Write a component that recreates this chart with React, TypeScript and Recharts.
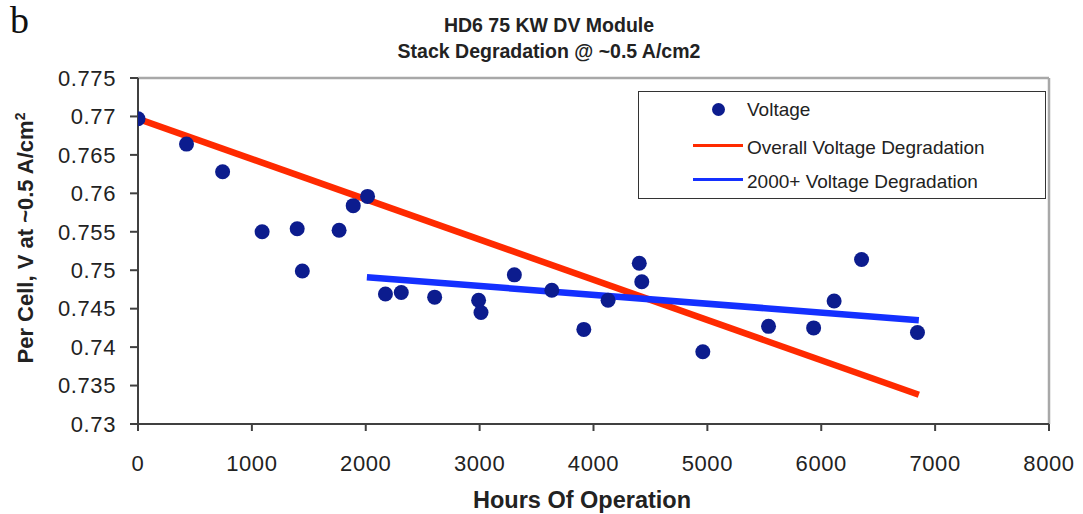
import React from 'react';
import { ComposedChart, Scatter, Line, XAxis, YAxis, ReferenceLine, Legend } from 'recharts';

// measured operating hours and per-cell voltage
const hours = [0, 426, 743, 1090, 1398, 1443, 1766, 1890, 2016, 2173, 2312, 2605, 2991, 3012, 3305, 3634, 3915, 4128, 4402, 4424, 4960, 5537, 5933, 6113, 6354, 6845];
const voltage = [0.7697, 0.7664, 0.7628, 0.755, 0.7554, 0.7499, 0.7552, 0.7584, 0.7596, 0.7469, 0.7471, 0.7465, 0.7461, 0.7445, 0.7494, 0.7474, 0.7423, 0.7461, 0.7509, 0.7485, 0.7394, 0.7427, 0.7425, 0.746, 0.7514, 0.7419];

// trend line end points
const overallHours = [0, 6857];
const overallVolts = [0.7697, 0.7338];
const recentHours = [2010, 6857];
const recentVolts = [0.7491, 0.7435];

const xTicks = [0, 1000, 2000, 3000, 4000, 5000, 6000, 7000, 8000];
const yTicks = [0.73, 0.735, 0.74, 0.745, 0.75, 0.755, 0.76, 0.765, 0.77, 0.775];

const FONT = '"Liberation Sans", Arial, sans-serif';
const DOT = '#0c1c8e';
const RED = '#ff2a00';
const BLUE = '#1430ff';

const points = hours.map((h, i) => ({ h, v: voltage[i] }));
const overall = overallHours.map((h, i) => ({ h, v: overallVolts[i] }));
const recent = recentHours.map((h, i) => ({ h, v: recentVolts[i] }));

const rowText: React.CSSProperties = { position: 'absolute', left: 108, lineHeight: '20px', whiteSpace: 'nowrap' };

const renderLegend = () => (
  <div style={{ position: 'relative', width: 408, height: 108, border: '1.5px solid #333', boxSizing: 'border-box', background: '#fff', fontFamily: FONT, fontSize: 19, color: '#222' }}>
    <div style={{ position: 'absolute', left: 73, top: 11, width: 13, height: 13, borderRadius: '50%', background: DOT }} />
    <div style={{ ...rowText, top: 8 }}>Voltage</div>
    <div style={{ position: 'absolute', left: 54, top: 52, width: 50, height: 3, background: RED }} />
    <div style={{ ...rowText, top: 46 }}>Overall Voltage Degradation</div>
    <div style={{ position: 'absolute', left: 54, top: 86, width: 50, height: 3, background: BLUE }} />
    <div style={{ ...rowText, top: 80 }}>2000+ Voltage Degradation</div>
  </div>
);

const App: React.FC = () => {
  return (
    <div style={{ position: 'absolute', left: 0, top: 0, width: 1083, height: 514, background: '#fff', fontFamily: FONT }}>
      <div style={{ position: 'absolute', left: 10, top: -2, fontFamily: '"Liberation Serif", "DejaVu Serif", serif', fontSize: 38, color: '#111' }}>b</div>
      <div style={{ position: 'absolute', left: 349, width: 400, top: 12, textAlign: 'center', fontWeight: 'bold', fontSize: 19.5, lineHeight: '26px', color: '#222', whiteSpace: 'nowrap' }}>
        HD6 75 KW DV Module
        <br />
        Stack Degradation @ ~0.5 A/cm2
      </div>
      <ComposedChart width={1083} height={514} margin={{ top: 78, right: 34, bottom: 60, left: 78 }}>
        <XAxis
          type="number"
          dataKey="h"
          domain={[0, 8000]}
          ticks={xTicks}
          allowDataOverflow
          height={30}
          tickSize={7}
          tickMargin={24}
          stroke="#404040"
          strokeWidth={2}
          tick={{ fontSize: 22, fill: '#222', fontFamily: FONT, letterSpacing: 0.6 }}
          label={{
            content: () => (
              <text x={582} y={508} textAnchor="middle" fontWeight="bold" fontSize={23.5} fill="#222" fontFamily={FONT}>
                Hours Of Operation
              </text>
            ),
          }}
        />
        <YAxis
          type="number"
          dataKey="v"
          domain={[0.73, 0.775]}
          ticks={yTicks}
          allowDataOverflow
          width={60}
          tickSize={8}
          tickMargin={14}
          stroke="#404040"
          strokeWidth={2}
          tickFormatter={(v: number) => String(+v.toFixed(3))}
          tick={{ fontSize: 22, fill: '#222', fontFamily: FONT, letterSpacing: 0.6 }}
          label={{
            content: () => (
              <text x={33} y={238} transform="rotate(-90 33 238)" textAnchor="middle" fontWeight="bold" fontSize={22} fill="#222" fontFamily={FONT}>
                Per Cell, V at ~0.5 A/cm<tspan dy={-8} fontSize={14}>2</tspan>
              </text>
            ),
          }}
        />
        <ReferenceLine y={0.775} stroke="#a8a8a8" strokeWidth={2.5} />
        <ReferenceLine x={8000} stroke="#a8a8a8" strokeWidth={2.5} />
        <Line data={overall} dataKey="v" stroke={RED} strokeWidth={6.5} dot={false} activeDot={false} isAnimationActive={false} />
        <Line data={recent} dataKey="v" stroke={BLUE} strokeWidth={6.5} dot={false} activeDot={false} isAnimationActive={false} />
        <Scatter data={points} dataKey="v" fill={DOT} isAnimationActive={false} shape={(p: any) => <circle cx={p.cx} cy={p.cy} r={7.5} fill={DOT} />} />
        <Legend
          layout="vertical"
          align="center"
          verticalAlign="middle"
          content={renderLegend}
          wrapperStyle={{ left: 638, top: 91, width: 408, height: 108 }}
        />
      </ComposedChart>
    </div>
  );
};

export default App;
